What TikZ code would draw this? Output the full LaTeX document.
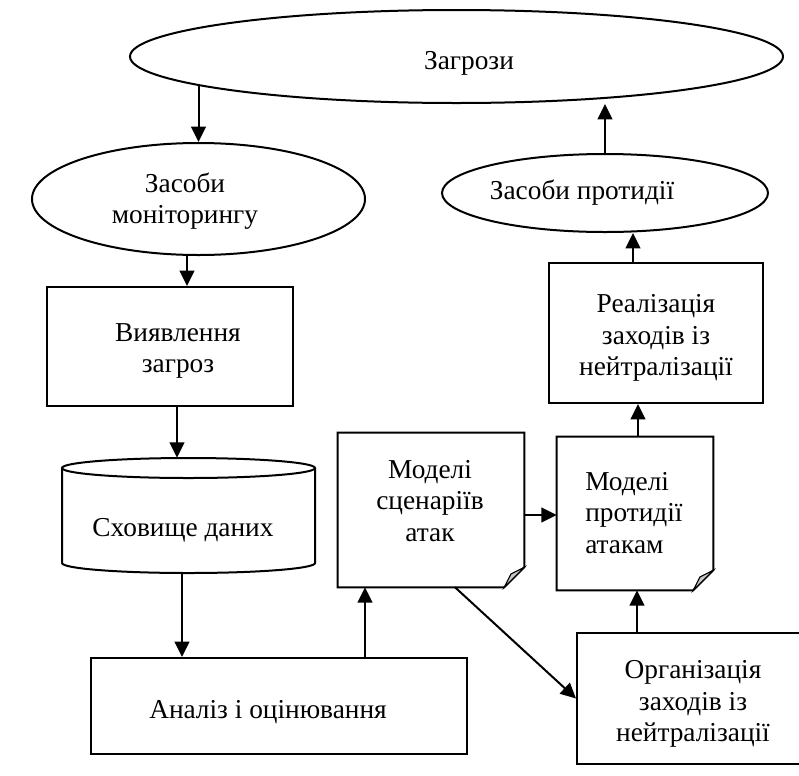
\documentclass[tikz,border=0pt]{standalone}
\usepackage{fontspec}
\setmainfont{Liberation Serif}
\usetikzlibrary{arrows.meta,shapes.geometric,calc}

\tikzset{
  box/.style={draw, line width=1.5pt, inner sep=0pt},
  oval/.style={ellipse, draw, line width=1.5pt, inner sep=0pt},
  frame/.style={draw=none, inner sep=0pt},
  txt/.style={inner sep=0pt, align=center, font=\fontsize{20.5}{23.5}\selectfont},
  arr/.style={line width=1.5pt, -{Triangle[length=11.5pt,width=11pt]}},
  outline/.style={line width=1.5pt, line join=miter},
  fold/.style={fill=gray!45, draw, line width=0.8pt}
}

% folded-corner outline around a named frame node
\newcommand{\notebox}[1]{%
  \draw[outline] (#1.north west) -- (#1.north east)
    -- ([yshift=15pt]#1.south east) -- ([xshift=-15pt]#1.south east)
    -- (#1.south west) -- cycle;
  \draw[fold] ([yshift=15pt]#1.south east) -- ([xshift=-15pt]#1.south east)
    -- ([xshift=-10pt,yshift=10pt]#1.south east) -- cycle;
}

\begin{document}
\begin{tikzpicture}[x=0.75pt,y=-0.75pt]
\useasboundingbox (0,0) rectangle (799,775);
\clip (0,0) rectangle (799,775);
\fill[white] (0,0) rectangle (799,775);

% shapes
\node[oval, minimum width=489.75pt, minimum height=69.75pt] (thr) at (456.5,56.5) {};
\node[oval, minimum width=249.75pt, minimum height=84pt] (mon) at (198.5,199) {};
\node[box, minimum width=184.5pt, minimum height=89.25pt] (det) at (170,346.5) {};
\node[frame, minimum width=189.75pt, minimum height=86.25pt] (db) at (188.5,515.5) {};
\node[box, minimum width=282pt, minimum height=72pt] (ana) at (279,706) {};
\node[frame, minimum width=139.5pt, minimum height=115.5pt] (scn) at (431,510) {};
\node[frame, minimum width=117pt, minimum height=114.75pt] (cnt) at (635,513.5) {};
\node[box, minimum width=160.5pt, minimum height=105pt] (real) at (656,333) {};
\node[oval, minimum width=244.5pt, minimum height=58.5pt] (ctr) at (605,193) {};
\node[box, minimum width=176.25pt, minimum height=98.25pt] (org) at (694.5,698.5) {};

% data store cylinder
\draw[outline] (62,468) -- (62,563) arc[start angle=180, end angle=360, x radius=94.9pt, y radius=7.5pt]
  -- (315,468);
\draw[outline] (188.5,468) ellipse [x radius=94.9pt, y radius=7.5pt];

% documents with folded corners
\notebox{scn}
\notebox{cnt}

% labels
\node[txt] (thrT) at (469,63) {Загрози};
\node[txt] (monT) at (185,201) {Засоби\\моніторингу};
\node[txt] (detT) at (178,351) {Виявлення\\загроз};
\node[txt] (dbT) at (183,530) {Сховище даних};
\node[txt] (anaT) at (268,712) {Аналіз і оцінювання};
\node[txt] (scnT) at (430,501) {Моделі\\сценаріїв\\атак};
\node[txt, anchor=west, align=left] (cntT) at (585,513) {Моделі\\протидії\\атакам};
\node[txt] (realT) at (656,338) {Реалізація\\заходів із\\нейтралізації};
\node[txt] (ctrT) at (582,193) {Засоби протидії};
\node[txt] (orgT) at (693,704) {Організація\\заходів із\\нейтралізації};

% connectors
\draw[arr] (mon.north |- thr.186) -- (mon.north);
\draw[arr] ([xshift=-8.6pt]mon.south) -- ([xshift=-8.6pt]mon.south |- det.north);
\draw[arr] ([xshift=5.25pt]det.south) -- ([xshift=5.25pt]det.south |- db.north);
\draw[arr] ([xshift=-4.9pt]db.south) -- ([xshift=-4.9pt]db.south |- ana.north);
\draw[arr] ([xshift=64.5pt]ana.north) -- ([xshift=64.5pt]ana.north |- scn.south);
\draw[arr] ([yshift=-3.75pt]scn.east) -- ([yshift=-3.75pt]scn.east -| cnt.west);
\draw[arr] ([xshift=18pt]scn.south) -- (org.west);
\draw[arr] ([xshift=1.5pt]cnt.south |- org.north) -- ([xshift=1.5pt]cnt.south);
\draw[arr] ([xshift=2.25pt]cnt.north) -- ([xshift=2.25pt]cnt.north |- real.south);
\draw[arr] ([xshift=-17.25pt]real.north) -- ([xshift=-17.25pt]real.north |- ctr.south);
\draw[arr] (ctr.north) -- (ctr.north |- thr.south);
\end{tikzpicture}
\end{document}
